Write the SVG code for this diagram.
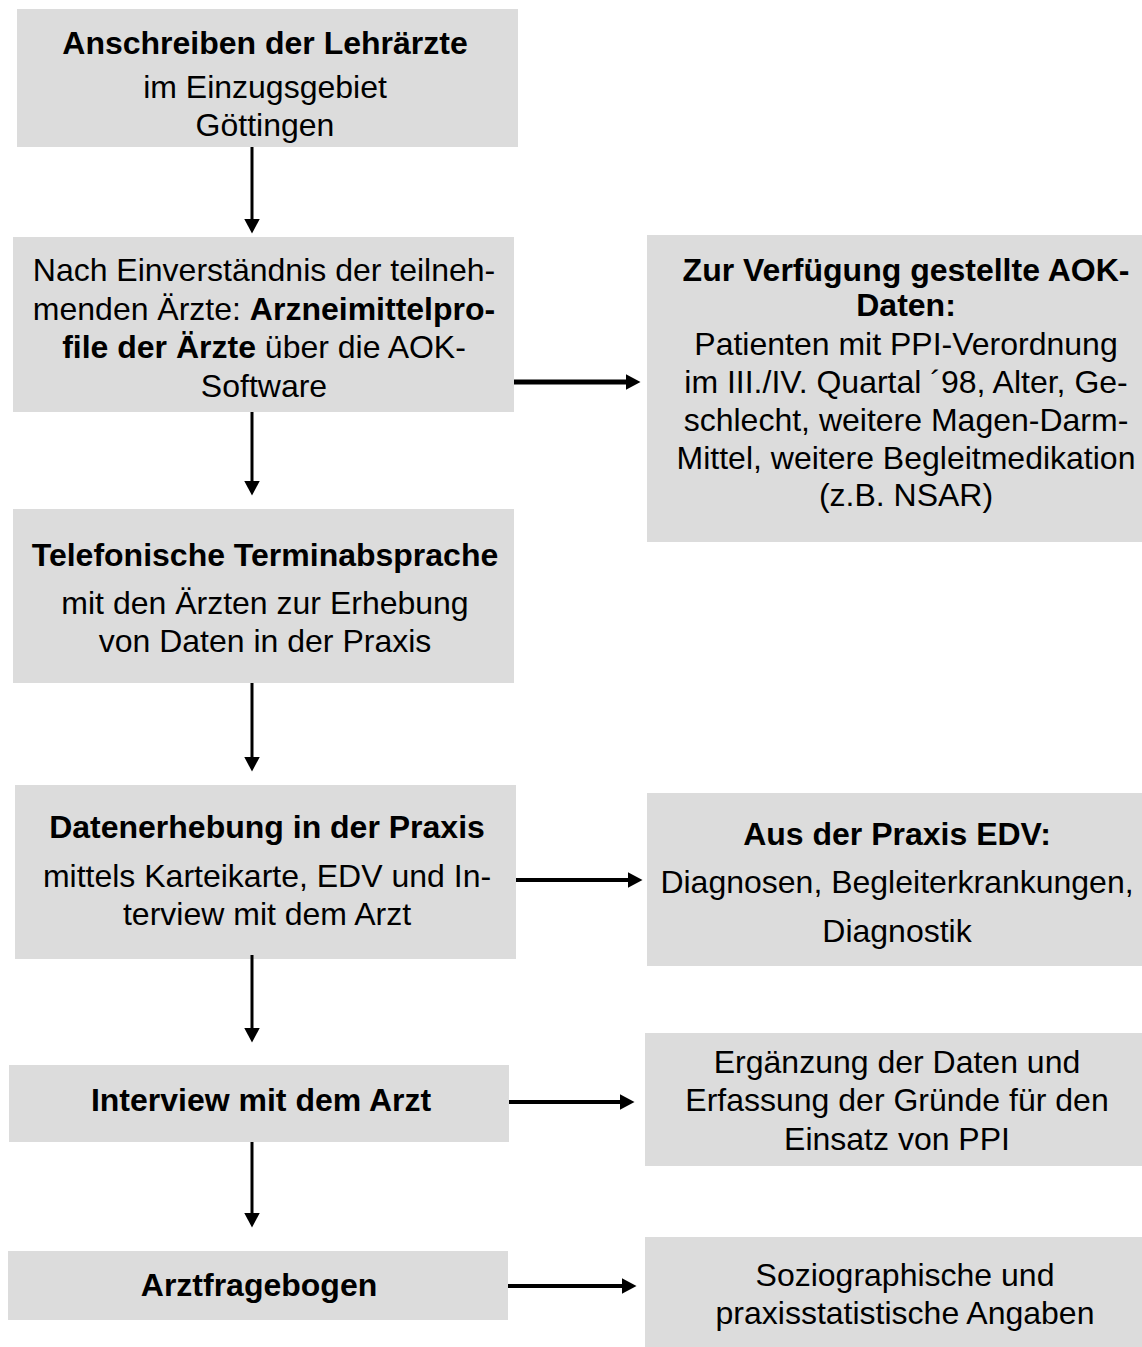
<svg xmlns="http://www.w3.org/2000/svg" width="1142" height="1347" viewBox="0 0 1142 1347">
<defs>
<style>
.box{fill:#dcdcdc;}
text{font-family:"Liberation Sans",Arial,Helvetica,sans-serif;font-size:32px;fill:#000;text-anchor:middle;}
.b{font-weight:bold;}
.v{stroke:#000;stroke-width:3;fill:none;}
.h{stroke:#000;stroke-width:4;fill:none;}
</style>
<marker id="ah" viewBox="0 0 15 16" refX="0.5" refY="8" markerWidth="15" markerHeight="16" markerUnits="userSpaceOnUse" orient="auto">
<path d="M0,0 L15,8 L0,16 z" fill="#000"/>
</marker>
</defs>
<rect width="1142" height="1347" fill="#fff"/>

<g id="n1">
<rect class="box" x="17" y="9" width="501" height="138"/>
<text x="265" y="54" class="b">Anschreiben der Lehrärzte</text>
<text x="265" y="98">im Einzugsgebiet</text>
<text x="265" y="136">Göttingen</text>
</g>

<g id="n2">
<rect class="box" x="13" y="237" width="501" height="175"/>
<text x="264" y="281">Nach Einverständnis der teilneh-</text>
<text x="264" y="320">menden Ärzte: <tspan class="b">Arzneimittelpro-</tspan></text>
<text x="264" y="358"><tspan class="b">file der Ärzte</tspan> über die AOK-</text>
<text x="264" y="397">Software</text>
</g>

<g id="n3">
<rect class="box" x="647" y="235" width="495" height="307"/>
<text x="906" y="281" class="b">Zur Verfügung gestellte AOK-</text>
<text x="906" y="316" class="b">Daten:</text>
<text x="906" y="355">Patienten mit PPI-Verordnung</text>
<text x="906" y="393">im III./IV. Quartal ´98, Alter, Ge-</text>
<text x="906" y="431">schlecht, weitere Magen-Darm-</text>
<text x="906" y="469">Mittel, weitere Begleitmedikation</text>
<text x="906" y="506">(z.B. NSAR)</text>
</g>

<g id="n4">
<rect class="box" x="13" y="509" width="501" height="174"/>
<text x="265" y="566" class="b">Telefonische Terminabsprache</text>
<text x="265" y="614">mit den Ärzten zur Erhebung</text>
<text x="265" y="652">von Daten in der Praxis</text>
</g>

<g id="n5">
<rect class="box" x="15" y="785" width="501" height="174"/>
<text x="267" y="838" class="b">Datenerhebung in der Praxis</text>
<text x="267" y="887">mittels Karteikarte, EDV und In-</text>
<text x="267" y="925">terview mit dem Arzt</text>
</g>

<g id="n6">
<rect class="box" x="647" y="793" width="495" height="173"/>
<text x="897" y="845" class="b">Aus der Praxis EDV:</text>
<text x="897" y="893">Diagnosen, Begleiterkrankungen,</text>
<text x="897" y="942">Diagnostik</text>
</g>

<g id="n7">
<rect class="box" x="9" y="1065" width="500" height="77"/>
<text x="261" y="1111" class="b">Interview mit dem Arzt</text>
</g>

<g id="n8">
<rect class="box" x="645" y="1033" width="497" height="133"/>
<text x="897" y="1073">Ergänzung der Daten und</text>
<text x="897" y="1111">Erfassung der Gründe für den</text>
<text x="897" y="1150">Einsatz von PPI</text>
</g>

<g id="n9">
<rect class="box" x="8" y="1251" width="500" height="69"/>
<text x="259" y="1296" class="b">Arztfragebogen</text>
</g>

<g id="n10">
<rect class="box" x="645" y="1237" width="497" height="110"/>
<text x="905" y="1286">Soziographische und</text>
<text x="905" y="1324">praxisstatistische Angaben</text>
</g>

<g id="connectors">
<line class="v" x1="252" y1="147" x2="252" y2="219" marker-end="url(#ah)"/>
<line class="v" x1="252" y1="412" x2="252" y2="481" marker-end="url(#ah)"/>
<line class="v" x1="252" y1="683" x2="252" y2="757" marker-end="url(#ah)"/>
<line class="v" x1="252" y1="955" x2="252" y2="1028" marker-end="url(#ah)"/>
<line class="v" x1="252" y1="1142" x2="252" y2="1213" marker-end="url(#ah)"/>
<line class="h" style="stroke-width:5" x1="514" y1="382" x2="626" y2="382" marker-end="url(#ah)"/>
<line class="h" x1="516" y1="880" x2="628" y2="880" marker-end="url(#ah)"/>
<line class="h" x1="509" y1="1102" x2="620" y2="1102" marker-end="url(#ah)"/>
<line class="h" x1="508" y1="1286" x2="622" y2="1286" marker-end="url(#ah)"/>
</g>
</svg>
